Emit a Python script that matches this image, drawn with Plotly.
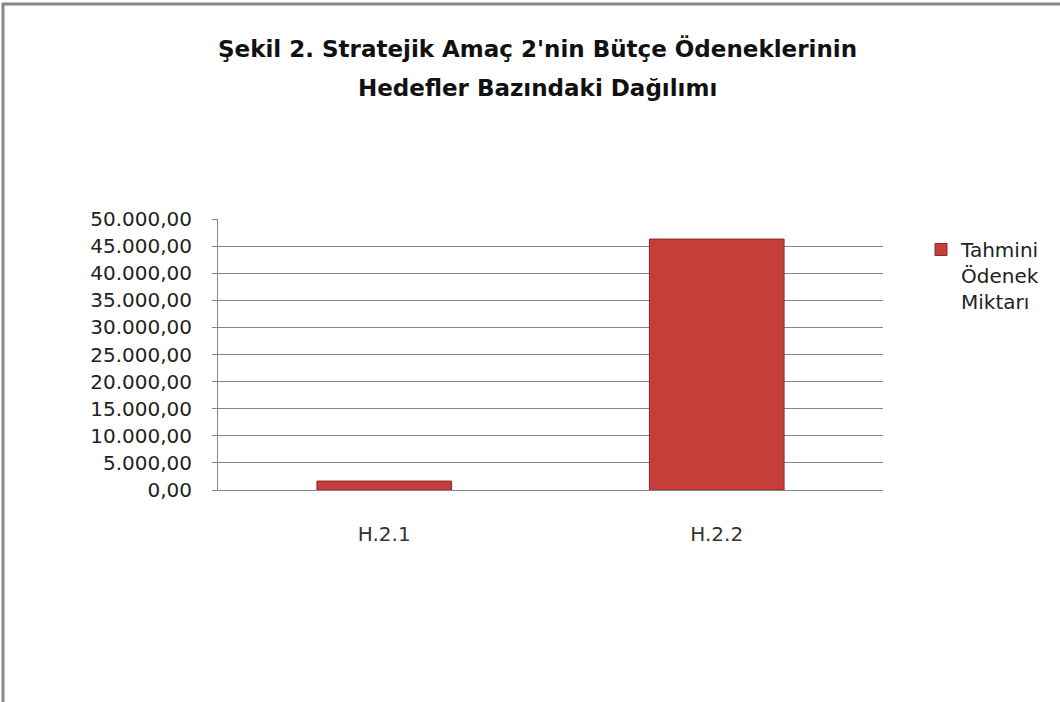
import plotly.graph_objects as go

categories = ["H.2.1", "H.2.2"]
values = [1650, 46300]
series_name = "Tahmini<br>Ödenek<br>Miktarı"
title_lines = ["Şekil 2. Stratejik Amaç 2'nin Bütçe Ödeneklerinin", "Hedefler Bazındaki Dağılımı"]

W, H = 1060, 702
L, R, T, B = 218, 177, 219, 212
pw, ph = W - L - R, H - T - B

fig = go.Figure()
fig.add_trace(go.Bar(
    x=categories, y=values, name=series_name,
    marker=dict(color="#c63e39", line=dict(color="#8e2b28", width=1)),
    showlegend=True,
))

font = "DejaVu Sans"
title_y = [48, 88]
annotations = [
    dict(text=t, xref="paper", yref="paper", x=(537 - L) / pw, y=(H - B - yy) / ph,
         xanchor="center", yanchor="middle", showarrow=False,
         font=dict(family=font, size=23, color="#111111", weight="bold"))
    for t, yy in zip(title_lines, title_y)
]

fig.update_layout(
    width=W, height=H,
    margin=dict(l=L, r=R, t=T, b=B, autoexpand=False),
    paper_bgcolor="white", plot_bgcolor="white",
    separators=",.",
    bargap=0.595,
    annotations=annotations,
    xaxis=dict(showline=True, linecolor="#868686", linewidth=1, showgrid=False,
               ticks="", tickfont=dict(family=font, size=20, color="#333333"),
               ticklabelstandoff=26),
    yaxis=dict(range=[0, 50000], dtick=5000, tickformat=",.2f",
               showline=True, linecolor="#868686", linewidth=1,
               showgrid=True, gridcolor="#868686", gridwidth=1,
               ticks="outside", ticklen=5, tickcolor="#868686",
               ticklabelstandoff=16,
               tickfont=dict(family=font, size=20, color="#222222"), zeroline=False),
    legend=dict(x=(921 - L) / pw, xanchor="left", y=(H - B - 230) / ph, yanchor="top",
                valign="top",
                font=dict(family=font, size=20, color="#222222"), bgcolor="rgba(0,0,0,0)"),
    shapes=[
        dict(type="line", xref="paper", yref="paper",
             x0=(3 - L) / pw, x1=(3 - L) / pw, y0=(H - B - 3) / ph, y1=(H - B - 710) / ph,
             line=dict(color="#878787", width=3)),
        dict(type="line", xref="paper", yref="paper",
             x0=(2 - L) / pw, x1=(1070 - L) / pw, y0=(H - B - 4) / ph, y1=(H - B - 4) / ph,
             line=dict(color="#878787", width=3)),
    ],
)

fig.write_html("out.html", config={"displayModeBar": False},
               post_script="document.body.style.margin='0';document.body.style.overflow='hidden';")
